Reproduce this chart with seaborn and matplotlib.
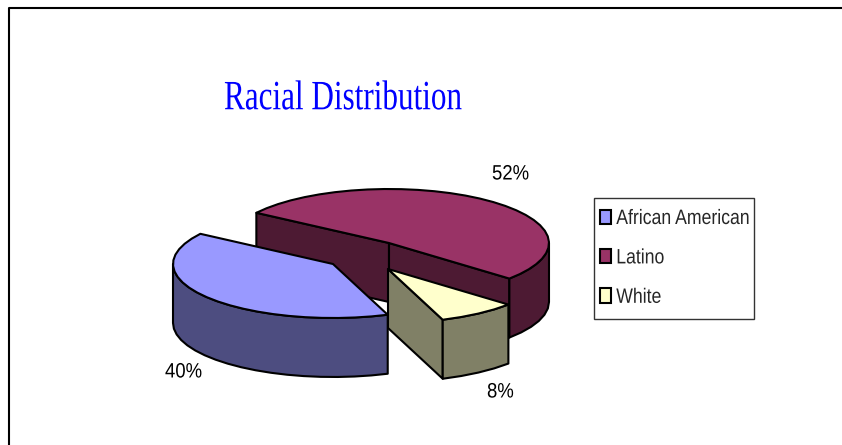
import numpy as np
import matplotlib
matplotlib.use("Agg")
import matplotlib.pyplot as plt
import matplotlib.patheffects as pe
from matplotlib.patches import Patch, Polygon, Rectangle
from matplotlib.transforms import Affine2D
import seaborn as sns

categories = ["African American", "Latino", "White"]
shares = [40, 52, 8]
top_colors = ["#9999FF", "#993366", "#FFFFCC"]
side_colors = ["#4D4D80", "#4D1A33", "#808066"]
title_text = "Racial Distribution"

FIRST_ANGLE = 160
RX, RY, DEPTH = 160, 54, 59
centers = [(333, 264), (389, 243), (388, 269)]
label_spots = [(165, 372), (492, 174), (487, 392)]
paint_order = [1, 2, 0]


class Squeeze(pe.AbstractPathEffect):
    """Narrow a text run horizontally, keeping its origin in place."""

    def __init__(self, factor):
        super().__init__()
        self.factor = factor

    def draw_path(self, renderer, gc, tpath, affine, rgbFace=None):
        renderer.draw_path(gc, tpath, Affine2D().scale(self.factor, 1) + affine, rgbFace)


sns.set_theme(style="white", rc={"font.family": ["Liberation Sans", "DejaVu Sans"]})
fig = plt.figure(figsize=(8.42, 4.45), dpi=100, facecolor="white")
ax = fig.add_axes([0, 0, 1, 1])
ax.set_xlim(0, 842)
ax.set_ylim(445, 0)
ax.axis("off")

# outer chart frame: only the top and left edges fall inside the canvas
ax.plot([8.7, 8.7, 842], [445, 8, 8], color="black", lw=1.5, solid_capstyle="butt")


def rim(center, a0, a1):
    n = max(2, int(abs(a1 - a0) / 6) + 1)
    t = np.radians(np.linspace(a0, a1, n))
    return np.column_stack([center[0] + RX * np.sin(t), center[1] - RY * np.cos(t)])


def add_poly(pts, color, z):
    ax.add_patch(Polygon(pts, closed=True, facecolor=color, edgecolor="black",
                         lw=1.5, joinstyle="round", zorder=z))


edges = FIRST_ANGLE + np.concatenate([[0], np.cumsum(shares)]) * 3.6
for rank, i in enumerate(paint_order):
    a0, a1 = edges[i], edges[i + 1]
    c = np.array(centers[i], float)
    drop = np.array([0, DEPTH])
    z = 2 + rank
    # radial cut faces turned toward the viewer
    for ang, show in ((a0, np.sin(np.radians(a0)) < 0), (a1, np.sin(np.radians(a1)) > 0)):
        if show:
            p = rim(c, ang, ang)[0]
            add_poly([c, p, p + drop, c + drop], side_colors[i], z)
    # outer wall: only the front half of the rim, which runs from 90 to 270 degrees
    for turn in (0, 360):
        lo, hi = max(a0, 90 + turn), min(a1, 270 + turn)
        if hi > lo:
            arc = rim(c, lo, hi)
            add_poly(np.vstack([arc, (arc + drop)[::-1]]), side_colors[i], z)
    add_poly(np.vstack([[c], rim(c, a0, a1)]), top_colors[i], z)

for value, (x, y) in zip(shares, label_spots):
    ax.text(x, y, f"{value}%", fontsize=15, color="black",
            ha="left", va="center", zorder=10, path_effects=[Squeeze(0.89)])

ax.text(224, 99, title_text, fontsize=30, color="#0000FF", family=["Liberation Serif"],
        ha="left", va="center", path_effects=[Squeeze(0.748)])

ax.add_patch(Rectangle((593.5, 197.5), 160, 121, facecolor="white", edgecolor="#333333", lw=1, zorder=5))
handles = [Patch(facecolor=f, edgecolor="black", lw=1.5) for f in top_colors]
leg = ax.legend(handles, categories, loc="upper left", bbox_to_anchor=(600, 209),
                bbox_transform=ax.transData, frameon=False, fontsize=15, borderpad=0,
                borderaxespad=0, labelspacing=0.98, handlelength=0.53, handleheight=0.67,
                handletextpad=0.25)
leg.set_zorder(6)
for t in leg.get_texts():
    t.set_path_effects([Squeeze(0.847)])

fig.savefig("out.png", dpi=100)
